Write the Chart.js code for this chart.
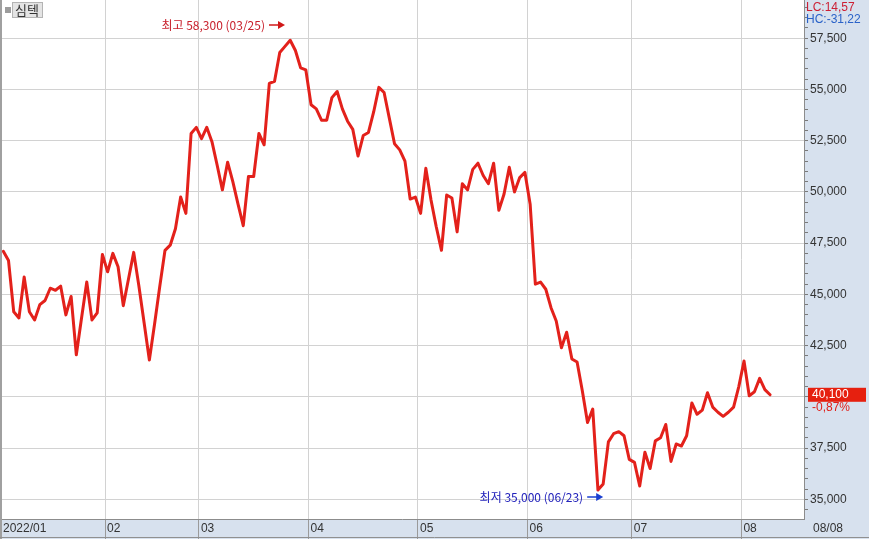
<!DOCTYPE html>
<html>
<head>
<meta charset="utf-8">
<title>심텍</title>
<script src="https://cdn.jsdelivr.net/npm/chart.js@4.4.0/dist/chart.umd.min.js"></script>
<style>
  html, body { margin: 0; padding: 0; background: #fff; }
  canvas { display: block; }
</style>
</head>
<body>
<canvas id="chart" width="869" height="539"></canvas>
<script>
// daily closes, 2022/01/03 ~ 2022/08/08
const closesJan = [47100, 46650, 44150, 43850, 45850, 44150, 43750, 44500, 44700, 45300,
                   45200, 45400, 44000, 44900, 42050, 43850, 45600, 43750, 44100, 46950];
const closesFeb = [46100, 47000, 46350, 44450, 45750, 47050, 45400, 43600, 41800, 43550,
                   45400, 47150, 47400, 48200, 49750, 48950, 52850, 53150];
const closesMar = [52600, 53150, 52450, 51300, 50100, 51450, 50500, 49400, 48350, 50750,
                   50750, 52850, 52300, 55300, 55400, 56800, 57100, 57400, 56900, 56050, 55950];
const closesApr = [54250, 54050, 53500, 53500, 54600, 54900, 54050, 53450, 53050, 51750,
                   52750, 52900, 53900, 55100, 54850, 53600, 52350, 52050, 51500, 49650, 49750];
const closesMay = [48950, 51150, 49600, 48300, 47150, 49850, 49700, 48050, 50400, 50100,
                   51100, 51400, 50800, 50400, 51400, 49100, 49900, 51200, 50000, 50700, 50950];
const closesJun = [49400, 45500, 45600, 45250, 44350, 43700, 42400, 43150, 41850, 41700,
                   40300, 38750, 39400, 35450, 35750, 37800, 38200, 38300, 38100, 36950];
const closesJul = [36800, 35650, 37300, 36500, 37850, 38000, 38650, 36850, 37700, 37600,
                   38100, 39700, 39150, 39350, 40200, 39500, 39250, 39050, 39250, 39500, 40500];
const closesAug = [41750, 40050, 40250, 40900, 40350, 40100];

const closes = [].concat(closesJan, closesFeb, closesMar, closesApr,
                         closesMay, closesJun, closesJul, closesAug);

const monthLabels = ['2022/01', '02', '03', '04', '05', '06', '07', '08'];
const monthStartIdx = [0, 20, 38, 59, 80, 101, 121, 142];
const lastDateLabel = '08/08';

const yLabels = [35000, 37500, 40000, 42500, 45000, 47500, 50000, 52500, 55000, 57500];

const stockName = '심텍';
const highMark = { text: '최고 58,300 (03/25)', value: 58300, idx: 54 };
const lowMark = { text: '최저 35,000 (06/23)', value: 35000, idx: 115 };
const lcText = 'LC:14,57';
const hcText = 'HC:-31,22';
const lastPriceText = '40,100';
const changeText = '-0,87%';

const BAND = '#d7e1ee';
const NUM_FONT = '12px "Liberation Sans", "Noto Sans CJK KR", sans-serif';
const KR_FONT = '12px "Noto Sans CJK KR", sans-serif';

function drawArrow(ctx, tipX, y, color) {
    ctx.strokeStyle = color;
    ctx.fillStyle = color;
    ctx.lineWidth = 1.5;
    ctx.beginPath();
    ctx.moveTo(tipX - 16, y);
    ctx.lineTo(tipX - 5, y);
    ctx.stroke();
    ctx.beginPath();
    ctx.moveTo(tipX, y);
    ctx.lineTo(tipX - 7, y - 4);
    ctx.lineTo(tipX - 7, y + 4);
    ctx.closePath();
    ctx.fill();
}

const framePlugin = {
    id: 'frame',
    beforeDraw(chart) {
        const { ctx, chartArea: a, width, height } = chart;
        ctx.save();
        ctx.fillStyle = '#fff';
        ctx.fillRect(0, 0, width, height);
        ctx.fillStyle = BAND;
        ctx.fillRect(a.right, 0, width - a.right, height);
        ctx.fillRect(0, a.bottom, width, height - a.bottom);
        ctx.restore();
    },
    afterDatasetsDraw(chart) {
        const { ctx, chartArea: a } = chart;
        const xs = chart.scales.x, ys = chart.scales.y;
        ctx.save();

        // high / low markers
        ctx.font = KR_FONT;
        ctx.textBaseline = 'middle';
        ctx.textAlign = 'right';
        let tip = xs.getPixelForValue(highMark.idx);
        let y = Math.max(ys.getPixelForValue(highMark.value), 25);
        ctx.fillStyle = '#c8202c';
        ctx.fillText(highMark.text, tip - 20, y);
        drawArrow(ctx, tip, y, '#d01818');

        tip = xs.getPixelForValue(lowMark.idx);
        y = Math.min(ys.getPixelForValue(lowMark.value), a.bottom - 22);
        ctx.fillStyle = '#2222bb';
        ctx.fillText(lowMark.text, tip - 20, y);
        drawArrow(ctx, tip, y, '#1a3fd0');

        // stock name tag
        ctx.fillStyle = '#a0a0a0';
        ctx.fillRect(0, 0, 2, chart.height);
        ctx.fillStyle = '#9c9c9c';
        ctx.fillRect(5, 7, 6, 6);
        ctx.fillStyle = '#e4e4e4';
        ctx.fillRect(12.5, 2.5, 30, 15);
        ctx.strokeStyle = '#b4b4b4';
        ctx.lineWidth = 1;
        ctx.strokeRect(12.5, 2.5, 30, 15);
        ctx.fillStyle = '#333';
        ctx.font = '13px "Noto Sans CJK KR", sans-serif';
        ctx.textAlign = 'left';
        ctx.fillText(stockName, 15, 10.5);
        ctx.restore();
    },
    afterDraw(chart) {
        const { ctx, chartArea: a, width, height } = chart;
        const xs = chart.scales.x, ys = chart.scales.y;
        const last = closes[closes.length - 1];
        ctx.save();
        ctx.font = NUM_FONT;
        ctx.textBaseline = 'middle';
        ctx.textAlign = 'left';

        // price axis labels
        ctx.fillStyle = '#333';
        yLabels.forEach(v => {
            if (Math.abs(v - last) < 1000) return;
            ctx.fillText(v.toLocaleString('en-US'), a.right + 6, ys.getPixelForValue(v));
        });

        // date axis labels
        const ly = (a.bottom + height) / 2;
        monthLabels.forEach((lab, i) => {
            const x = i === 0 ? 3 : xs.getPixelForValue(monthStartIdx[i] - 0.5) + 2;
            ctx.fillText(lab, x, ly);
        });
        ctx.fillText(lastDateLabel, a.right + 9, ly);
        ctx.strokeStyle = '#909090';
        ctx.lineWidth = 1;
        ctx.beginPath();
        ctx.moveTo(0, height - 1.5);
        ctx.lineTo(width, height - 1.5);
        ctx.stroke();

        // LC / HC
        ctx.fillStyle = '#cc1f34';
        ctx.fillText(lcText, a.right + 2, 8);
        ctx.fillStyle = '#2a62c8';
        ctx.fillText(hcText, a.right + 2, 20);

        // last price tag
        const py = ys.getPixelForValue(last);
        ctx.fillStyle = '#e6200f';
        ctx.fillRect(a.right + 4, py - 7, 58, 14);
        ctx.fillStyle = '#fff';
        ctx.fillText(lastPriceText, a.right + 8, py);
        ctx.fillStyle = '#e0201a';
        ctx.fillText(changeText, a.right + 8, py + 13);
        ctx.restore();
    }
};

new Chart(document.getElementById('chart'), {
    type: 'line',
    data: {
        datasets: [{
            data: closes.map((v, i) => ({ x: i, y: v })),
            borderColor: '#e3211b',
            borderWidth: 3,
            borderJoinStyle: 'round',
            borderCapStyle: 'round',
            pointRadius: 0,
            tension: 0,
            fill: false
        }]
    },
    options: {
        responsive: false,
        animation: false,
        devicePixelRatio: 1,
        layout: { padding: 0 },
        plugins: { legend: { display: false }, tooltip: { enabled: false } },
        scales: {
            x: {
                type: 'linear',
                min: -0.633,
                max: 153.5,
                afterBuildTicks: s => { s.ticks = monthStartIdx.slice(1).map(v => ({ value: v - 0.5 })); },
                afterFit: s => { s.height = 20; },
                ticks: { display: false },
                grid: { color: '#d2d2d2', tickColor: '#9a9a9a', tickLength: 20, drawTicks: true },
                border: { color: '#8c8c8c' }
            },
            y: {
                type: 'linear',
                position: 'right',
                min: 34039,
                max: 59364,
                afterBuildTicks: s => {
                    const t = [];
                    for (let v = 34500; v <= 59000; v += 500) t.push({ value: v });
                    s.ticks = t;
                },
                afterFit: s => { s.width = 65; },
                ticks: { display: false },
                grid: {
                    color: c => (yLabels.includes(c.tick.value) ? '#d2d2d2' : 'rgba(0,0,0,0)'),
                    tickColor: '#7a7a7a',
                    tickLength: 4,
                    drawTicks: true
                },
                border: { color: '#8c8c8c' }
            }
        }
    },
    plugins: [framePlugin]
});
</script>
</body>
</html>
